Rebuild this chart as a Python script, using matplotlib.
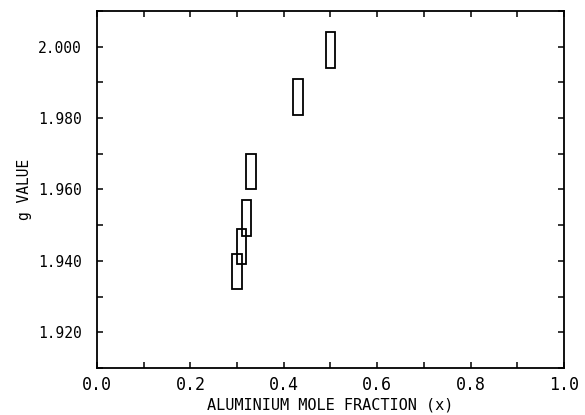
import matplotlib
matplotlib.use("Agg")
import matplotlib.pyplot as plt
from matplotlib.patches import Rectangle
from matplotlib.ticker import MultipleLocator, FormatStrFormatter

# aluminium mole fraction vs g value, with error boxes
x_frac = [0.30, 0.31, 0.32, 0.33, 0.43, 0.50]
g_val = [1.937, 1.944, 1.952, 1.965, 1.986, 1.999]
x_err = [0.010, 0.010, 0.010, 0.010, 0.011, 0.010]
g_err = [0.005, 0.005, 0.005, 0.005, 0.005, 0.005]

plt.rcParams['font.family'] = ['DejaVu Sans Mono', 'DejaVu Sans']

fig = plt.figure(figsize=(5.85, 4.15), dpi=100, facecolor='white')
ax = fig.add_axes([0.1658, 0.1133, 0.7983, 0.8602])

for x, g, dx, dg in zip(x_frac, g_val, x_err, g_err):
    ax.add_patch(Rectangle((x - dx, g - dg), 2 * dx, 2 * dg,
                           fill=False, edgecolor='black', linewidth=1.3))

ax.set_xlim(0.0, 1.0)
ax.set_ylim(1.910, 2.010)

ax.xaxis.set_major_locator(MultipleLocator(0.2))
ax.xaxis.set_minor_locator(MultipleLocator(0.1))
ax.yaxis.set_major_locator(MultipleLocator(0.02))
ax.yaxis.set_minor_locator(MultipleLocator(0.01))
ax.xaxis.set_major_formatter(FormatStrFormatter('%.1f'))
ax.yaxis.set_major_formatter(FormatStrFormatter('%.3f'))

ax.tick_params(which='both', direction='in', top=True, right=True,
               length=4, width=1.1, color='black')
ax.tick_params(axis='x', which='major', labelsize=12, pad=6)
ax.tick_params(axis='y', which='major', labelsize=10.5, pad=11)

for sp in ax.spines.values():
    sp.set_linewidth(1.3)

ax.set_xlabel('ALUMINIUM MOLE FRACTION (x)', fontsize=11, labelpad=2)
ax.set_ylabel('g VALUE', fontsize=10.5, labelpad=4)

fig.savefig('out.png', dpi=100, facecolor='white')
